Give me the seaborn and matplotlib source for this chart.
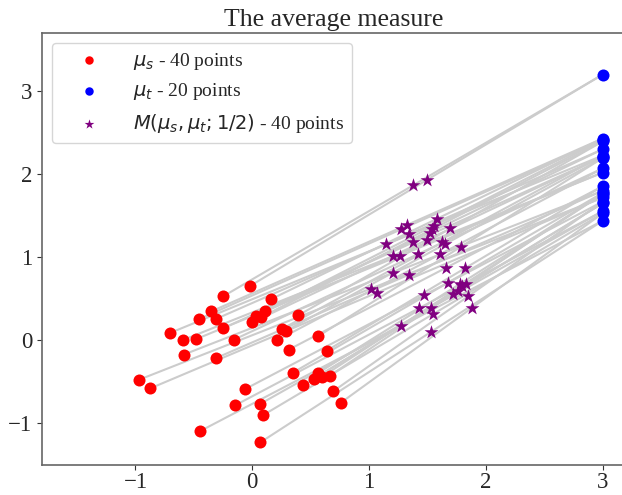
import numpy as np
import pandas as pd
import matplotlib
matplotlib.use("Agg")
import matplotlib.pyplot as plt
import seaborn as sns

# ---- data ----
source_x = [-0.015, -0.249, 0.164, -0.352, -0.455, -0.309, 0.113, 0.036, 0.079, -0.001,
            0.393, -0.247, -0.706, -0.592, -0.478, -0.158, 0.253, 0.293, 0.213, 0.567,
            -0.586, -0.312, 0.313, 0.638, -0.968, -0.872, 0.347, 0.564, 0.527, 0.595,
            0.664, 0.436, -0.058, 0.693, 0.758, -0.144, 0.064, 0.093, -0.449, 0.068]
source_y = [0.658, 0.530, 0.498, 0.348, 0.256, 0.259, 0.348, 0.295, 0.280, 0.216,
            0.300, 0.148, 0.088, 0.005, 0.017, 0.008, 0.136, 0.116, 0.001, 0.053,
            -0.171, -0.214, -0.111, -0.123, -0.473, -0.577, -0.389, -0.393, -0.461, -0.441,
            -0.425, -0.541, -0.584, -0.613, -0.751, -0.780, -0.768, -0.900, -1.094, -1.229]
target_x = [3.0] * 20
target_y = [3.20, 2.43, 2.415, 2.395, 2.30, 2.225, 2.21, 2.195, 2.07, 2.02,
            1.855, 1.80, 1.775, 1.76, 1.72, 1.67, 1.65, 1.555, 1.53, 1.44]
# index of the target point that each source point is transported to
pairing = [0, 0, 1, 1, 2, 4, 2, 4, 3, 6, 3, 6, 5, 9, 9, 8, 5, 7, 8, 7,
           11, 11, 10, 10, 14, 14, 12, 13, 16, 13, 12, 16, 15, 15, 18, 17, 17, 18, 19, 19]
t_weight = 0.5

labels = [r"$\mu_s$ - 40 points", r"$\mu_t$ - 20 points",
          r"$M(\mu_s, \mu_t; 1/2)$ - 40 points"]
title = "The average measure"

# ---- build tables ----
src = pd.DataFrame({"x": source_x, "y": source_y})
tgt = pd.DataFrame({"x": target_x, "y": target_y})
px = [target_x[j] for j in pairing]
py = [target_y[j] for j in pairing]
mid = pd.DataFrame({"x": [(1 - t_weight) * a + t_weight * b for a, b in zip(source_x, px)],
                    "y": [(1 - t_weight) * a + t_weight * b for a, b in zip(source_y, py)]})
seg = pd.DataFrame({
    "x": source_x + px,
    "y": source_y + py,
    "pair": list(range(40)) * 2,
})

sns.set_style("white")
plt.rcParams["font.family"] = ["Liberation Serif", "DejaVu Serif"]
plt.rcParams["mathtext.fontset"] = "dejavusans"
plt.rcParams["axes.unicode_minus"] = True

fig = plt.figure(figsize=(6.22, 4.95), dpi=100)
ax = fig.add_axes([42 / 622, 30 / 495, 584 / 622, 432 / 495])

sns.lineplot(data=seg, x="x", y="y", units="pair", estimator=None, sort=False,
             color="#cccccc", linewidth=1.5, ax=ax, zorder=1, legend=False)
sns.scatterplot(data=src, x="x", y="y", color="red", s=75, linewidth=0,
                ax=ax, zorder=3, label=labels[0])
sns.scatterplot(data=tgt, x="x", y="y", color="blue", s=75, linewidth=0,
                ax=ax, zorder=3, label=labels[1])
sns.scatterplot(data=mid, x="x", y="y", color="purple", marker="*", s=110, linewidth=0,
                ax=ax, zorder=3, label=labels[2])

ax.set_xlim(-1.8, 3.2)
ax.set_ylim(-1.5, 3.7)
ax.set_xticks([-1, 0, 1, 2, 3])
ax.set_yticks([-1, 0, 1, 2, 3])
ax.set_xlabel("")
ax.set_ylabel("")
ax.tick_params(axis="both", labelsize=16.5, length=3.5, width=0.8, color="#333333",
               bottom=True, left=True)
ax.tick_params(axis="x", pad=1.5)
for sp in ax.spines.values():
    sp.set_color("#666666")
    sp.set_linewidth(1.2)
ax.set_title(title, fontsize=18.5, pad=5)

ax.legend(loc="upper left", fontsize=14, markerscale=0.7, handlelength=3,
          frameon=True, fancybox=True, framealpha=0.8, edgecolor="#cccccc")

fig.savefig("out.png", dpi=100)
